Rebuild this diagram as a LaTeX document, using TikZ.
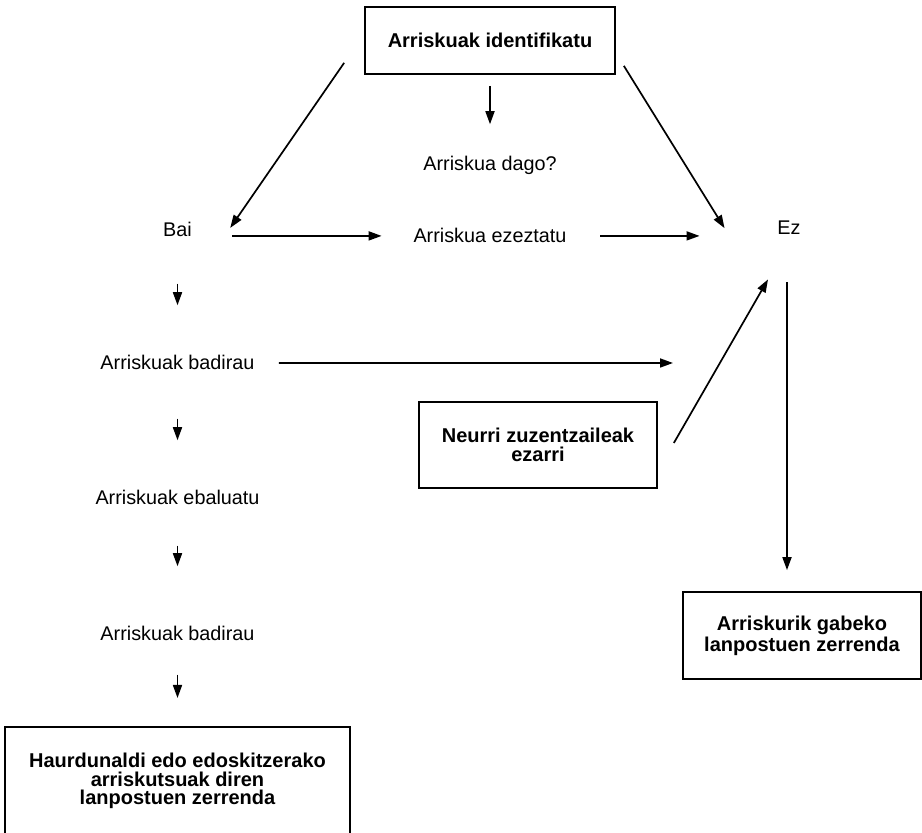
\documentclass[tikz,border=0pt]{standalone}
\usepackage{fontspec}
\setmainfont{Liberation Sans}
\usetikzlibrary{arrows.meta}
\tikzstyle{plaintext} = [inner sep=0pt, anchor=base, font=\fontsize{9.9}{9.2}\selectfont]
\tikzstyle{listbox} = [rectangle, draw=black, line width=0.85pt, align=center, font=\fontsize{10}{9.2}\selectfont\bfseries]
\tikzstyle{arrow} = [line width=0.85pt, -{Triangle[length=6.5pt,width=4.5pt]}]

\begin{document}
\begin{tikzpicture}[x=0.5pt, y=-0.5pt]
    \useasboundingbox (0,0) rectangle (922,833);
    % Top
    \node (ident) [listbox, minimum width=125pt, minimum height=33.5pt] at (490,40.5) {Arriskuak identifikatu};
    \node (dago) [plaintext] at (490,171) {Arriskua dago?};
    
    % Middle row
    \node (bai) [plaintext] at (177.5,237) {Bai};
    \node (ezez) [plaintext] at (490,243) {Arriskua ezeztatu};
    \node (ez) [plaintext] at (789,235) {Ez};
    
    % Left column - last box is open at the bottom
    \node (badirau1) [plaintext] at (177.5,370) {Arriskuak badirau};
    \node (ebaluatu) [plaintext] at (177.5,505) {Arriskuak ebaluatu};
    \node (badirau2) [plaintext] at (177.5,641) {Arriskuak badirau};
    \node (arriskutsu) [listbox, draw=none, anchor=north, minimum width=171.5pt, minimum height=53pt] at (177.5,727) {Haurdunaldi edo edoskitzerako\\arriskutsuak diren\\lanpostuen zerrenda};
    \draw [line width=0.85pt] (arriskutsu.south west) -- (arriskutsu.north west) -- (arriskutsu.north east) -- (arriskutsu.south east);
    
    % Right side
    \node (neurri) [listbox, minimum width=119pt, minimum height=43pt] at (538,445) {Neurri zuzentzaileak\\ezarri};
    \node (gabeko) [listbox, minimum width=119pt, minimum height=43.5pt] at (802,635.5) {Arriskurik gabeko\\lanpostuen zerrenda};
    \coordinate (badend) at (673,363);
    
    % Arrows
    \draw [arrow] ([shift={(-10pt,6pt)}]ident.south west) -- ([shift={(19pt,1pt)}]bai.east);
    \draw [arrow] ([shift={(4pt,4.5pt)}]ident.south east) -- ([xshift=-26.25pt]ez.west);
    \draw [arrow] ([yshift=-5.5pt]ident.south) -- ([yshift=16pt]dago.north);
    \draw [arrow] ([xshift=20pt]bai.east |- ezez.west) -- ([xshift=-15.75pt]ezez.west);
    \draw [arrow] ([xshift=16.75pt]ezez.east) -- ([xshift=-38.75pt]ez.west |- ezez.east);
    \draw [arrow] ([xshift=12pt]badirau1.east) -- (badend);
    \draw [arrow] ([shift={(8pt,1pt)}]neurri.east) -- ([shift={(-10.5pt,-22pt)}]ez.south);
    \draw [arrow] ([shift={(-1pt,-23.5pt)}]ez.south) -- ([shift={(-1pt,10.5pt)}]ez.south |- gabeko.north);
    \draw [arrow] ([yshift=-23pt]bai.south) -- ([yshift=25pt]badirau1.north);
    \draw [arrow] ([yshift=-24pt]badirau1.south) -- ([yshift=25pt]ebaluatu.north);
    \draw [arrow] ([yshift=-20pt]ebaluatu.south) -- ([yshift=30pt]badirau2.north);
    \draw [arrow] ([yshift=-16.5pt]badirau2.south) -- ([yshift=14.5pt]arriskutsu.north);
\end{tikzpicture}
\end{document}
